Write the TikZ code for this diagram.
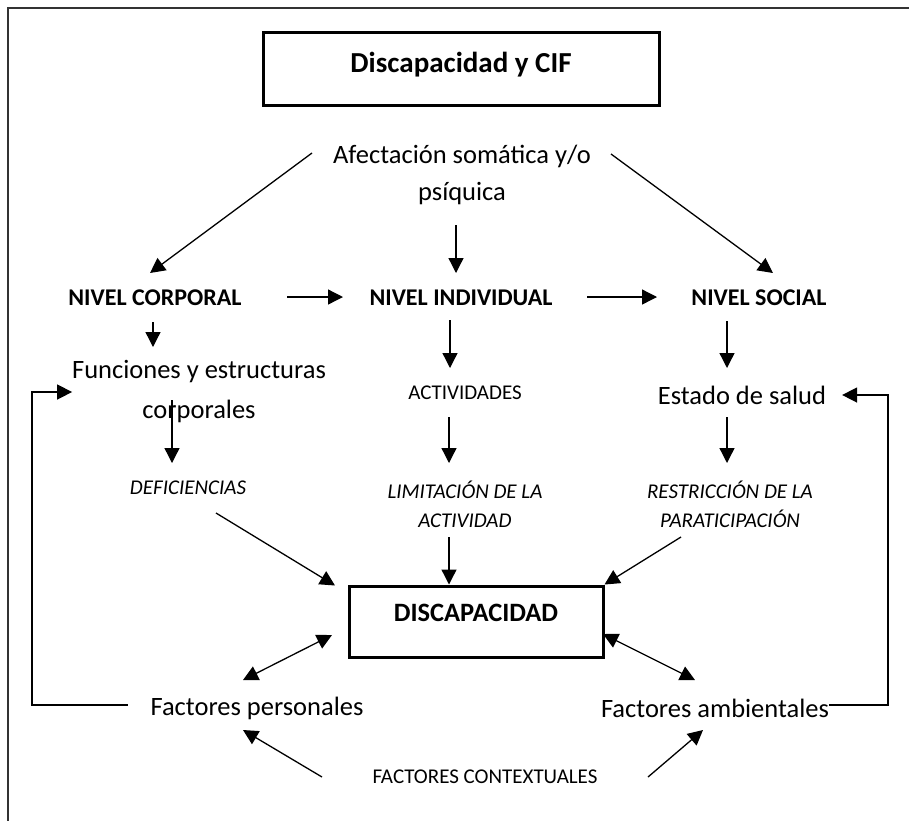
\documentclass[tikz,border=0pt]{standalone}
\usepackage{fontspec}
\setmainfont{Carlito}
\usetikzlibrary{arrows.meta}
\begin{document}
\begin{tikzpicture}[x=1pt,y=-1pt,
  txt/.style={inner sep=0pt, outer sep=0pt, align=center},
  big/.style={txt, font=\fontsize{26.5}{37}\selectfont},
  bigtwo/.style={txt, font=\fontsize{26.5}{40}\selectfont},
  small/.style={txt, font=\fontsize{21}{29}\selectfont},
  smallit/.style={txt, font=\fontsize{21}{29}\selectfont\itshape},
  level/.style={txt, font=\fontsize{24}{28}\selectfont\bfseries},
  heavybox/.style={draw, line width=3pt, inner sep=0pt, align=center},
  arr/.style={line width=1.3pt, -{Triangle[length=15pt,width=15pt]}},
  dbl/.style={line width=1.3pt, {Triangle[length=15pt,width=15pt]}-{Triangle[length=15pt,width=15pt]}},
  fb/.style={line width=1.5pt, -{Triangle[length=15pt,width=15pt]}},
  framel/.style={line width=1.5pt, black!80}
]
\useasboundingbox (0,0) rectangle (909,820);
% outer frame (open at right and bottom)
\draw[framel] (8,830) -- (8,8) -- (920,8);

% nodes
\node[heavybox, minimum width=396pt, minimum height=73pt,
      font=\fontsize{29}{34}\selectfont\bfseries, text height=20pt, text depth=12.4pt]
      (title) at (461,68.5) {Discapacidad y CIF};
\node[big] (afect) at (462,175) {Afectación somática y/o\\psíquica};
\node[level] (corp) at (155,298) {NIVEL CORPORAL};
\node[level] (indiv) at (461,298) {NIVEL INDIVIDUAL};
\node[level] (social) at (759,298) {NIVEL SOCIAL};
\node[bigtwo] (func) at (199,392) {Funciones y estructuras\\corporales};
\node[small] (activ) at (465,393) {ACTIVIDADES};
\node[big] (estado) at (742,395) {Estado de salud};
\node[smallit] (defic) at (188,488) {DEFICIENCIAS};
\node[smallit] (limit) at (465,504.5) {LIMITACIÓN DE LA\\ACTIVIDAD};
\node[smallit] (restr) at (730,504.5) {RESTRICCIÓN DE LA\\PARATICIPACIÓN};
\node[heavybox, minimum width=254pt, minimum height=71pt,
      font=\fontsize{26.5}{30}\selectfont\bfseries, text height=12pt, text depth=12pt]
      (disc) at (476,621.5) {DISCAPACIDAD};
\node[big] (fpers) at (257,708) {Factores personales};
\node[big] (famb) at (715,708) {Factores ambientales};
\node[small] (fctx) at (485,777) {FACTORES CONTEXTUALES};

% connectors
\draw[arr] ([xshift=-150pt,yshift=22pt]afect.center) -- ([xshift=-5pt,yshift=25pt]corp.center);
\draw[arr] ([xshift=149pt,yshift=21pt]afect.center) -- ([xshift=14pt,yshift=25pt]social.center);
\draw[arr] ([xshift=-6pt,yshift=-50pt]afect.center) -- ([xshift=-5pt,yshift=25pt]indiv.center);
\draw[arr] ([xshift=132pt,yshift=1pt]corp.center) -- ([xshift=-118pt,yshift=1pt]indiv.center);
\draw[arr] ([xshift=126pt,yshift=1pt]indiv.center) -- ([xshift=-102pt,yshift=1pt]social.center);
\draw[arr] ([xshift=-2pt,yshift=-24pt]corp.center) -- ([xshift=-46pt,yshift=45pt]func.center);
\draw[arr] ([xshift=-11pt,yshift=-22pt]indiv.center) -- ([xshift=-15pt,yshift=25pt]activ.center);
\draw[arr] ([xshift=-32pt,yshift=-23pt]social.center) -- ([xshift=-15pt,yshift=27pt]estado.center);
\draw[arr] ([xshift=-27pt,yshift=-8pt]func.center) -- ([xshift=-16pt,yshift=25pt]defic.center);
\draw[arr] ([xshift=-16pt,yshift=-24pt]activ.center) -- ([xshift=-16pt,yshift=41.5pt]limit.center);
\draw[arr] ([xshift=-15pt,yshift=-22pt]estado.center) -- ([xshift=-3pt,yshift=41.5pt]restr.center);
\draw[arr] ([xshift=28pt,yshift=-25pt]defic.center) -- ([xshift=-141pt,yshift=36pt]disc.center);
\draw[arr] ([xshift=-16pt,yshift=-32.5pt]limit.center) -- ([xshift=-27pt]disc.north);
\draw[arr] ([xshift=-49pt,yshift=-32.5pt]restr.center) -- (disc.north east);
\draw[dbl] ([xshift=-144pt,yshift=-13.5pt]disc.center) -- ([xshift=-14pt,yshift=28pt]fpers.center);
\draw[dbl] ([xshift=127pt,yshift=-12.5pt]disc.center) -- ([xshift=-20pt,yshift=28pt]famb.center);
\draw[arr] ([xshift=-163pt]fctx.center) -- ([xshift=-14pt,yshift=-22pt]fpers.center);
\draw[arr] ([xshift=163pt]fctx.center) -- ([xshift=-12pt,yshift=-22pt]famb.center);
% feedback loops
\draw[fb] ([xshift=-23pt,yshift=3pt]fpers.west) -| ([xshift=-40pt]func.west) -- (func.west);
\draw[fb] ([yshift=3pt]famb.east) -| ([xshift=62pt]estado.east) -- ([xshift=16pt]estado.east);
\end{tikzpicture}
\end{document}
